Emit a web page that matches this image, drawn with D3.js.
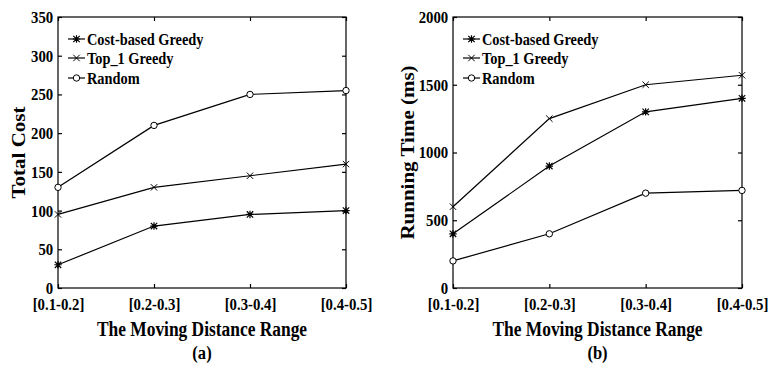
<!DOCTYPE html>
<html><head><meta charset="utf-8">
<script src="https://cdn.jsdelivr.net/npm/d3@7"></script>
<style>body{margin:0;background:#fff;} text{font-family:"Liberation Serif","Times New Roman",serif;font-weight:bold;fill:#000;}</style>
</head><body>
<svg id="c" width="769" height="366"></svg>
<script>
const categories = ["[0.1-0.2]","[0.2-0.3]","[0.3-0.4]","[0.4-0.5]"];
const seriesNames = ["Cost-based Greedy","Top_1 Greedy","Random"];
const markers = ["star","x","circle"];
// Panel (a): Total Cost
const costGreedyA = [30, 80, 95, 100];
const top1GreedyA = [95, 130, 145, 160];
const randomA = [130, 210, 250, 255];
const yTicksA = [0,50,100,150,200,250,300,350];
// Panel (b): Running Time (ms)
const costGreedyB = [400, 900, 1300, 1400];
const top1GreedyB = [600, 1250, 1500, 1570];
const randomB = [200, 400, 700, 720];
const yTicksB = [0,500,1000,1500,2000];

const SQ = 0.87; // horizontal squeeze of the reference lettering
const svg = d3.select("#c");

function drawMarker(g, type, x, y) {
  const s = 3.2;
  if (type === "circle") {
    g.append("circle").attr("cx", x).attr("cy", y).attr("r", s).attr("fill", "#fff").attr("stroke", "#000").attr("stroke-width", 1);
  } else if (type === "x") {
    g.append("path").attr("d", `M${x-s},${y-s}L${x+s},${y+s}M${x-s},${y+s}L${x+s},${y-s}`).attr("stroke", "#000").attr("stroke-width", 1);
  } else {
    g.append("path").attr("d", `M${x-s},${y-s}L${x+s},${y+s}M${x-s},${y+s}L${x+s},${y-s}M${x},${y-s-0.5}L${x},${y+s+0.5}M${x-s-0.5},${y}L${x+s+0.5},${y}`).attr("stroke", "#000").attr("stroke-width", 1.2);
  }
}

function htext(g, x, y, str, size, anchor) {
  return g.append("text").attr("transform", `translate(${x},${y}) scale(${SQ},1)`)
    .attr("text-anchor", anchor || "start").style("font-size", size + "px").text(str);
}

function panel(opt) {
  const {left, right, top, bottom, yMax, yTicks, data, yTitle, label, yLabelX} = opt;
  const g = svg.append("g");
  const x = d3.scalePoint().domain(categories).range([left, right]);
  const y = d3.scaleLinear().domain([0, yMax]).range([bottom, top]);
  g.append("rect").attr("x", left).attr("y", top).attr("width", right-left).attr("height", bottom-top)
    .attr("fill", "none").attr("stroke", "#000").attr("stroke-width", 1.2);
  const ax = g.append("g").attr("transform", `translate(0,${bottom})`)
    .call(d3.axisBottom(x).tickSize(-4).tickPadding(10));
  const axT = g.append("g").attr("transform", `translate(0,${top})`)
    .call(d3.axisTop(x).tickSize(-4).tickFormat(""));
  const ay = g.append("g").attr("transform", `translate(${left},0)`)
    .call(d3.axisLeft(y).tickValues(yTicks).tickFormat(d3.format("d")).tickSize(-4).tickPadding(5.5));
  const ayR = g.append("g").attr("transform", `translate(${right},0)`)
    .call(d3.axisRight(y).tickValues(yTicks).tickSize(-4).tickFormat(""));
  [ax, axT, ay, ayR].forEach(a => { a.attr("font-family", null).attr("font-size", null); a.select(".domain").remove(); a.selectAll("line").attr("stroke", "#000").attr("stroke-width", 1.2); });
  [ax, ay].forEach(a => a.selectAll("text")
    .style("font-size", "17px").style("font-family", "Liberation Serif").style("font-weight", "bold")
    .attr("transform", `scale(${SQ},1)`));
  const line = d3.line().x((d,i) => x(categories[i])).y(d => y(d));
  data.forEach((vals, si) => {
    g.append("path").datum(vals).attr("d", line).attr("fill", "none").attr("stroke", "#000").attr("stroke-width", 1.2);
    vals.forEach((v,i) => drawMarker(g, markers[si], x(categories[i]), y(v)));
  });
  const lx0 = left + 10, lx1 = left + 27, ly = [top + 22, top + 41, top + 61];
  seriesNames.forEach((n, i) => {
    g.append("line").attr("x1", lx0).attr("x2", lx1).attr("y1", ly[i]).attr("y2", ly[i]).attr("stroke", "#000").attr("stroke-width", 1.2);
    drawMarker(g, markers[i], (lx0+lx1)/2, ly[i]);
    htext(g, lx1 + 2, ly[i] + 6, n, 16.5);
  });
  const cx = (left + right) / 2;
  htext(g, cx, 336, "The Moving Distance Range", 20, "middle");
  htext(g, cx, 359, label, 19, "middle");
  g.append("text").attr("transform", `translate(${yLabelX},${(top+bottom)/2}) rotate(-90) scale(1,${SQ})`)
    .attr("text-anchor", "middle").style("font-size", "21px").text(yTitle);
}

panel({left: 58, right: 346, top: 17, bottom: 288, yMax: 350, yTicks: yTicksA,
  data: [costGreedyA, top1GreedyA, randomA], yTitle: "Total Cost", label: "(a)", yLabelX: 25});
panel({left: 453, right: 742, top: 17, bottom: 288, yMax: 2000, yTicks: yTicksB,
  data: [costGreedyB, top1GreedyB, randomB], yTitle: "Running Time (ms)", label: "(b)", yLabelX: 414});
</script>
</body></html>
